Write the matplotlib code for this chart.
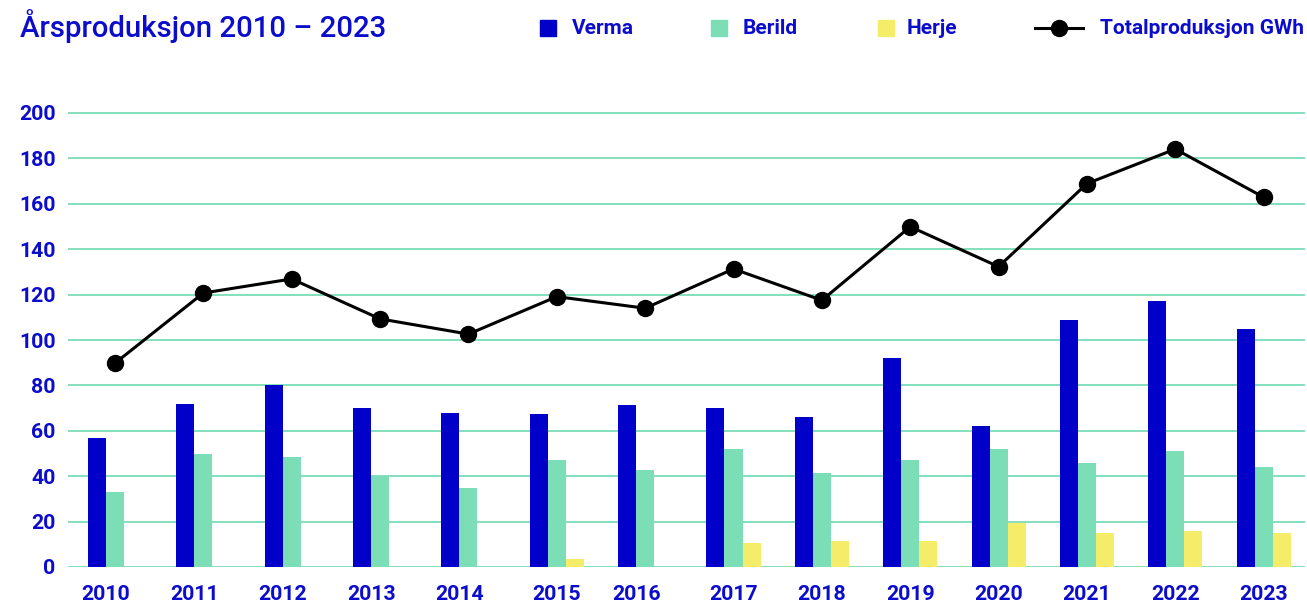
import numpy as np
import matplotlib as mpl
mpl.use('Agg')
import matplotlib.pyplot as plt
from matplotlib.lines import Line2D

plt.rcParams['font.family'] = ['Roboto', 'DejaVu Sans']

years = ['2010', '2011', '2012', '2013', '2014', '2015', '2016',
         '2017', '2018', '2019', '2020', '2021', '2022', '2023']
verma = [57, 72, 80, 70, 68, 67.5, 71.3, 70, 66.2, 92, 62.2, 108.7, 117.2, 105]
berild = [33, 50, 48.5, 40, 35, 47.1, 42.8, 52.2, 41.4, 47.2, 52.1, 45.8, 51.2, 44.2]
herje = [np.nan, np.nan, np.nan, np.nan, np.nan, 3.6, np.nan,
         10.5, 11.6, 11.6, 19.6, 15.1, 16, 15]
total = [89.8, 120.7, 126.9, 109.3, 102.6, 119.1, 114, 131.3, 117.5,
         149.9, 132.3, 168.9, 184.1, 162.9]

blue = '#0000c8'
green = '#7bdeb6'
yellow = '#f5ec69'
txt = '#0c0ccc'
grid = '#84dfbc'

W, H = 1307, 603
ymax = 202
px_per = (567 - 113) / 200
fig = plt.figure(figsize=(W / 100, H / 100), dpi=100)
ax = fig.add_axes([68 / W, (H - 567) / H, (1305 - 68) / W, ymax * px_per / H])

x = np.arange(len(years))
w = 0.204
ax.bar(x - w, verma, w, color=blue, zorder=2)
ax.bar(x, berild, w, color=green, zorder=2)
ax.bar(x + w, np.nan_to_num(herje), w, color=yellow, zorder=2)
ax.plot(x, total, color='black', lw=2.2, marker='o', ms=11.5, zorder=3)

# year label sits under the bars that actually have data
tick_pos = [np.mean([-w, 0] + ([w] if not np.isnan(h) else [])) + i
            for i, h in enumerate(herje)]
ax.set_xticks(tick_pos)
ax.set_xticklabels(years)
ax.set_xlim(-0.532, 13.468)
ax.set_ylim(0, ymax)
ax.set_yticks(range(0, 201, 20))

ax.grid(axis='y', color=grid, lw=1.4, zorder=0)
ax.set_axisbelow(True)
for s in ax.spines.values():
    s.set_visible(False)
ax.tick_params(length=0, labelsize=15.3, labelcolor=txt)
ax.tick_params(axis='x', pad=13)
ax.tick_params(axis='y', pad=9)
for lab in ax.get_xticklabels() + ax.get_yticklabels():
    lab.set_fontweight('bold')

fig.text(20 / W, 1 - 26 / H, 'Årsproduksjon 2010 – 2023', color=txt,
         fontsize=21.2, fontweight='medium', va='center', ha='left')

# legend along the top
ly = 1 - 28 / H
entries = [('Verma', blue, 548, 572), ('Berild', green, 719, 743),
           ('Herje', yellow, 886, 907)]
for name, col, mx, tx in entries:
    fig.add_artist(Line2D([mx / W], [ly], marker='s', ms=12, color=col,
                          mec=col, ls='none'))
    fig.text(tx / W, ly, name, color=txt, fontsize=15, fontweight='bold',
             va='center', ha='left')
fig.add_artist(Line2D([1035 / W, 1083 / W], [ly, ly], color='black', lw=2.2))
fig.add_artist(Line2D([1059 / W], [ly], marker='o', ms=11.5, color='black',
                      ls='none'))
fig.text(1100 / W, ly, 'Totalproduksjon GWh', color=txt, fontsize=15,
         fontweight='bold', va='center', ha='left')

fig.savefig('out.png', dpi=100)
